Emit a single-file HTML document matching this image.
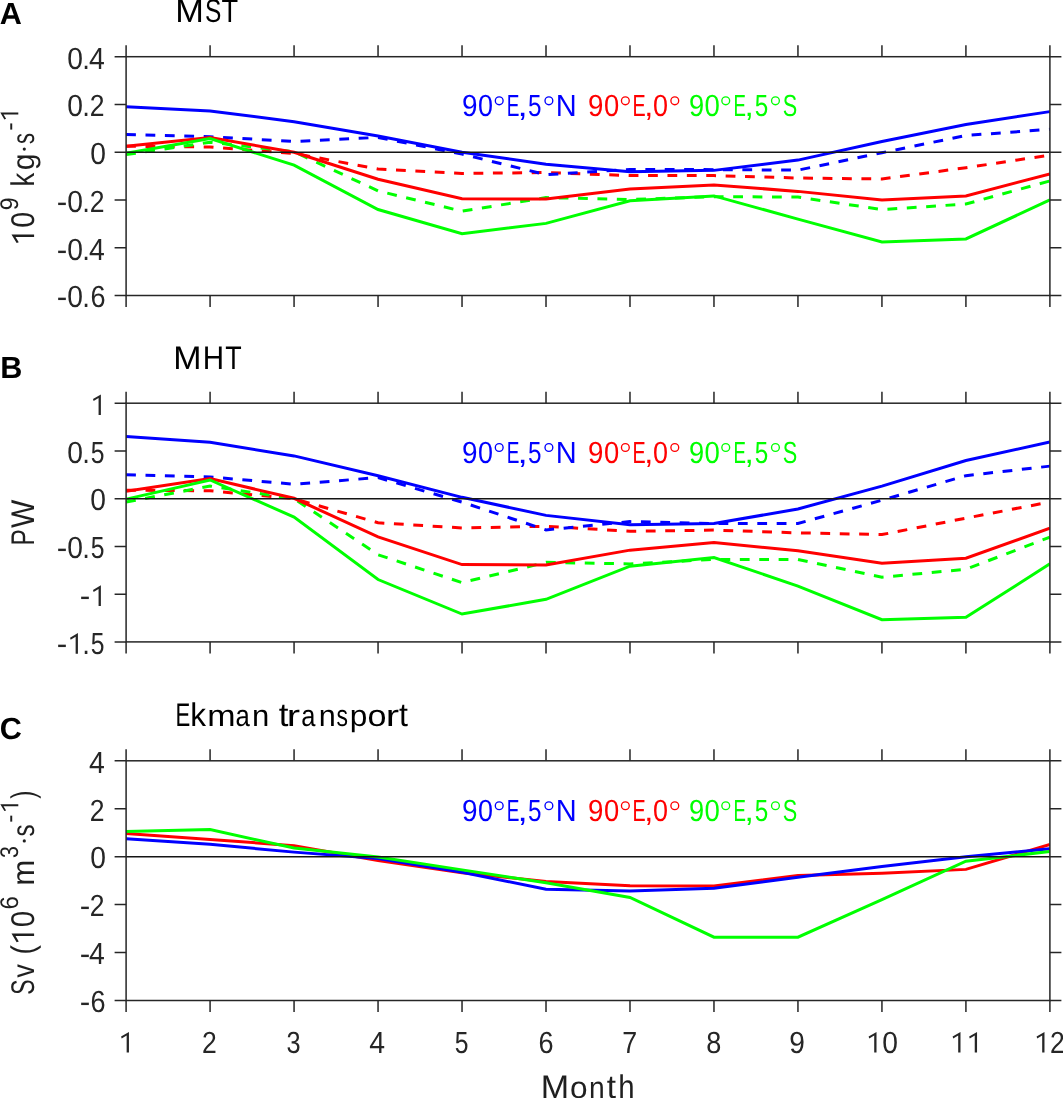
<!DOCTYPE html>
<html><head><meta charset="utf-8"><style>
html,body{margin:0;padding:0;background:#fff;}
svg{display:block;will-change:transform;}
text{font-family:"Liberation Sans",sans-serif;text-rendering:geometricPrecision;}
.tl{font-size:29.5px;fill:#262626;}
.ti{font-size:31px;fill:#000;}
.pl{font-size:30.6px;font-weight:bold;fill:#000;stroke:none;}
.yl{font-size:31px;fill:#262626;}
.lg{font-size:29px;}
.sup{font-size:25px;}
</style></head><body>
<svg width="1063" height="1098" viewBox="0 0 1063 1098">
<rect width="1063" height="1098" fill="#fff"/>
<clipPath id="clipA"><rect x="126.1" y="56.7" width="923.8" height="238.8"/></clipPath>
<g clip-path="url(#clipA)" fill="none" stroke-width="3.0" stroke-linejoin="miter" stroke-miterlimit="10">
<polyline points="126.1,146.25 210.08,146.97 294.06,153.41 378.05,168.94 462.03,173.47 546.01,172.52 629.99,175.62 713.97,175.62 797.95,178.01 881.94,178.97 965.92,167.74 1049.9,155.09" stroke="#ff0000" stroke-dasharray="9.8 9.6"/>
<polyline points="126.1,154.61 210.08,142.19 294.06,151.74 378.05,190.91 462.03,211.2 546.01,197.59 629.99,199.5 713.97,196.64 797.95,197.11 881.94,209.53 965.92,204.04 1049.9,180.88" stroke="#00ff00" stroke-dasharray="9.8 9.6"/>
<polyline points="126.1,134.55 210.08,136.7 294.06,141.47 378.05,137.41 462.03,154.13 546.01,174.67 629.99,169.41 713.97,169.65 797.95,170.13 881.94,152.7 965.92,135.5 1049.9,129.3" stroke="#0000ff" stroke-dasharray="9.8 9.6"/>
<polyline points="126.1,106.85 210.08,111.03 294.06,121.65 378.05,135.98 462.03,152.22 546.01,164.16 629.99,171.8 713.97,170.37 797.95,160.1 881.94,141.47 965.92,124.52 1049.9,111.62" stroke="#0000ff"/>
<polyline points="126.1,146.25 210.08,137.53 294.06,152.22 378.05,179.2 462.03,198.79 546.01,199.02 629.99,189 713.97,184.94 797.95,191.38 881.94,199.98 965.92,195.92 1049.9,173.95" stroke="#ff0000"/>
<polyline points="126.1,153.18 210.08,138.61 294.06,165.12 378.05,209.53 462.03,233.65 546.01,223.38 629.99,200.7 713.97,195.92 797.95,219.08 881.94,242.01 965.92,238.9 1049.9,199.98" stroke="#00ff00"/>
</g>
<line x1="126.1" y1="152.22" x2="1049.9" y2="152.22" stroke="#141414" stroke-width="1.6"/>
<rect x="126.1" y="56.7" width="923.8" height="238.8" fill="none" stroke="#262626" stroke-width="1.5"/>
<path d="M114.6 56.7H126.1M1049.9 56.7H1061.4M114.6 104.46H126.1M1049.9 104.46H1061.4M114.6 152.22H126.1M1049.9 152.22H1061.4M114.6 199.98H126.1M1049.9 199.98H1061.4M114.6 247.74H126.1M1049.9 247.74H1061.4M114.6 295.5H126.1M1049.9 295.5H1061.4M126.1 45.2V56.7M126.1 295.5V307M210.08 45.2V56.7M210.08 295.5V307M294.06 45.2V56.7M294.06 295.5V307M378.05 45.2V56.7M378.05 295.5V307M462.03 45.2V56.7M462.03 295.5V307M546.01 45.2V56.7M546.01 295.5V307M629.99 45.2V56.7M629.99 295.5V307M713.97 45.2V56.7M713.97 295.5V307M797.95 45.2V56.7M797.95 295.5V307M881.94 45.2V56.7M881.94 295.5V307M965.92 45.2V56.7M965.92 295.5V307M1049.9 45.2V56.7M1049.9 295.5V307" stroke="#262626" stroke-width="1.5" fill="none"/>
<text transform="translate(67.22,68.50) scale(0.9229,1.0000)" style="font-size:30.6px;fill:#262626">0</text>
<text transform="translate(82.24,68.50) scale(0.8970,1.0000)" style="font-size:30.6px;fill:#262626">.</text>
<text transform="translate(89.12,68.50) scale(0.9274,1.0000)" style="font-size:30.6px;fill:#262626">4</text>
<text transform="translate(67.22,116.26) scale(0.9229,1.0000)" style="font-size:30.6px;fill:#262626">0</text>
<text transform="translate(82.24,116.26) scale(0.8970,1.0000)" style="font-size:30.6px;fill:#262626">.</text>
<text transform="translate(89.84,116.26) scale(0.8680,1.0000)" style="font-size:30.6px;fill:#262626">2</text>
<text transform="translate(90.17,164.02) scale(0.9229,1.0000)" style="font-size:30.6px;fill:#262626">0</text>
<text transform="translate(56.75,211.78) scale(1.0307,1.0000)" style="font-size:30.6px;fill:#262626">-</text>
<text transform="translate(67.22,211.78) scale(0.9229,1.0000)" style="font-size:30.6px;fill:#262626">0</text>
<text transform="translate(82.24,211.78) scale(0.8970,1.0000)" style="font-size:30.6px;fill:#262626">.</text>
<text transform="translate(89.84,211.78) scale(0.8680,1.0000)" style="font-size:30.6px;fill:#262626">2</text>
<text transform="translate(56.75,259.54) scale(1.0307,1.0000)" style="font-size:30.6px;fill:#262626">-</text>
<text transform="translate(67.22,259.54) scale(0.9229,1.0000)" style="font-size:30.6px;fill:#262626">0</text>
<text transform="translate(82.24,259.54) scale(0.8970,1.0000)" style="font-size:30.6px;fill:#262626">.</text>
<text transform="translate(89.12,259.54) scale(0.9274,1.0000)" style="font-size:30.6px;fill:#262626">4</text>
<text transform="translate(56.75,307.30) scale(1.0307,1.0000)" style="font-size:30.6px;fill:#262626">-</text>
<text transform="translate(67.22,307.30) scale(0.9229,1.0000)" style="font-size:30.6px;fill:#262626">0</text>
<text transform="translate(82.24,307.30) scale(0.8970,1.0000)" style="font-size:30.6px;fill:#262626">.</text>
<text transform="translate(90.40,307.30) scale(0.8853,1.0000)" style="font-size:30.6px;fill:#262626">6</text>
<clipPath id="clipB"><rect x="126.1" y="403.2" width="923.8" height="238.7"/></clipPath>
<g clip-path="url(#clipB)" fill="none" stroke-width="3.0" stroke-linejoin="miter" stroke-miterlimit="10">
<polyline points="126.1,490.18 210.08,490.76 294.06,498.68 378.05,522.74 462.03,527.99 546.01,526.27 629.99,531.33 713.97,530.09 797.95,532.86 881.94,534.58 965.92,518.16 1049.9,502.02" stroke="#ff0000" stroke-dasharray="9.8 9.6"/>
<polyline points="126.1,502.02 210.08,486.08 294.06,498.68 378.05,554.73 462.03,582.61 546.01,562.37 629.99,563.89 713.97,559.41 797.95,559.41 881.94,577.26 965.92,569.24 1049.9,537.16" stroke="#00ff00" stroke-dasharray="9.8 9.6"/>
<polyline points="126.1,474.81 210.08,477.01 294.06,484.17 378.05,477.58 462.03,502.12 546.01,529.9 629.99,521.6 713.97,523.5 797.95,523.5 881.94,500.21 965.92,475.67 1049.9,466.12" stroke="#0000ff" stroke-dasharray="9.8 9.6"/>
<polyline points="126.1,436.62 210.08,442.35 294.06,455.9 378.05,475.67 462.03,497.34 546.01,515.39 629.99,524.75 713.97,523.5 797.95,508.99 881.94,486.08 965.92,460.49 1049.9,441.96" stroke="#0000ff"/>
<polyline points="126.1,491.23 210.08,478.63 294.06,498.3 378.05,536.87 462.03,564.56 546.01,565.04 629.99,550.14 713.97,542.51 797.95,550.72 881.94,563.32 965.92,558.26 1049.9,528.18" stroke="#ff0000"/>
<polyline points="126.1,499.16 210.08,479.97 294.06,517.11 378.05,579.55 462.03,614.02 546.01,599.32 629.99,566.18 713.97,557.59 797.95,586.04 881.94,619.75 965.92,617.36 1049.9,563.89" stroke="#00ff00"/>
</g>
<line x1="126.1" y1="498.68" x2="1049.9" y2="498.68" stroke="#141414" stroke-width="1.6"/>
<rect x="126.1" y="403.2" width="923.8" height="238.7" fill="none" stroke="#262626" stroke-width="1.5"/>
<path d="M114.6 403.2H126.1M1049.9 403.2H1061.4M114.6 450.94H126.1M1049.9 450.94H1061.4M114.6 498.68H126.1M1049.9 498.68H1061.4M114.6 546.42H126.1M1049.9 546.42H1061.4M114.6 594.16H126.1M1049.9 594.16H1061.4M114.6 641.9H126.1M1049.9 641.9H1061.4M126.1 391.7V403.2M126.1 641.9V653.4M210.08 391.7V403.2M210.08 641.9V653.4M294.06 391.7V403.2M294.06 641.9V653.4M378.05 391.7V403.2M378.05 641.9V653.4M462.03 391.7V403.2M462.03 641.9V653.4M546.01 391.7V403.2M546.01 641.9V653.4M629.99 391.7V403.2M629.99 641.9V653.4M713.97 391.7V403.2M713.97 641.9V653.4M797.95 391.7V403.2M797.95 641.9V653.4M881.94 391.7V403.2M881.94 641.9V653.4M965.92 391.7V403.2M965.92 641.9V653.4M1049.9 391.7V403.2M1049.9 641.9V653.4" stroke="#262626" stroke-width="1.5" fill="none"/>
<path transform="translate(99.73,415.00)" d="M1.15 -20.60 L1.15 0.00 L-1.15 0.00 L-1.15 -16.93 L-6.12 -13.97 L-6.73 -15.91Z" fill="#262626"/>
<text transform="translate(67.22,462.74) scale(0.9229,1.0000)" style="font-size:30.6px;fill:#262626">0</text>
<text transform="translate(82.24,462.74) scale(0.8970,1.0000)" style="font-size:30.6px;fill:#262626">.</text>
<text transform="translate(90.69,462.74) scale(0.8064,1.0000)" style="font-size:30.6px;fill:#262626">5</text>
<text transform="translate(90.17,510.48) scale(0.9229,1.0000)" style="font-size:30.6px;fill:#262626">0</text>
<text transform="translate(56.75,558.22) scale(1.0307,1.0000)" style="font-size:30.6px;fill:#262626">-</text>
<text transform="translate(67.22,558.22) scale(0.9229,1.0000)" style="font-size:30.6px;fill:#262626">0</text>
<text transform="translate(82.24,558.22) scale(0.8970,1.0000)" style="font-size:30.6px;fill:#262626">.</text>
<text transform="translate(90.69,558.22) scale(0.8064,1.0000)" style="font-size:30.6px;fill:#262626">5</text>
<text transform="translate(79.70,605.96) scale(1.0307,1.0000)" style="font-size:30.6px;fill:#262626">-</text>
<path transform="translate(99.73,605.96)" d="M1.15 -20.60 L1.15 0.00 L-1.15 0.00 L-1.15 -16.93 L-6.12 -13.97 L-6.73 -15.91Z" fill="#262626"/>
<text transform="translate(56.75,653.70) scale(1.0307,1.0000)" style="font-size:30.6px;fill:#262626">-</text>
<path transform="translate(76.78,653.70)" d="M1.15 -20.60 L1.15 0.00 L-1.15 0.00 L-1.15 -16.93 L-6.12 -13.97 L-6.73 -15.91Z" fill="#262626"/>
<text transform="translate(82.24,653.70) scale(0.8970,1.0000)" style="font-size:30.6px;fill:#262626">.</text>
<text transform="translate(90.69,653.70) scale(0.8064,1.0000)" style="font-size:30.6px;fill:#262626">5</text>
<clipPath id="clipC"><rect x="126.1" y="760.8" width="923.8" height="239.7"/></clipPath>
<g clip-path="url(#clipC)" fill="none" stroke-width="3.0" stroke-linejoin="miter" stroke-miterlimit="10">
<polyline points="126.1,833.43 210.08,839.42 294.06,845.65 378.05,860.52 462.03,872.74 546.01,881.61 629.99,885.68 713.97,885.92 797.95,875.62 881.94,873.22 965.92,869.38 1049.9,844.46" stroke="#ff0000"/>
<polyline points="126.1,838.7 210.08,844.34 294.06,852.13 378.05,858.6 462.03,872.26 546.01,889.28 629.99,890.96 713.97,888.32 797.95,877.29 881.94,866.51 965.92,856.68 1049.9,848.77" stroke="#0000ff"/>
<polyline points="126.1,831.51 210.08,829.59 294.06,848.05 378.05,856.92 462.03,869.86 546.01,882.81 629.99,897.43 713.97,937.22 797.95,937.22 881.94,899.59 965.92,861.23 1049.9,851.41" stroke="#00ff00"/>
</g>
<line x1="126.1" y1="856.68" x2="1049.9" y2="856.68" stroke="#141414" stroke-width="1.6"/>
<rect x="126.1" y="760.8" width="923.8" height="239.7" fill="none" stroke="#262626" stroke-width="1.5"/>
<path d="M114.6 760.8H126.1M1049.9 760.8H1061.4M114.6 808.74H126.1M1049.9 808.74H1061.4M114.6 856.68H126.1M1049.9 856.68H1061.4M114.6 904.62H126.1M1049.9 904.62H1061.4M114.6 952.56H126.1M1049.9 952.56H1061.4M114.6 1000.5H126.1M1049.9 1000.5H1061.4M126.1 749.3V760.8M126.1 1000.5V1012M210.08 749.3V760.8M210.08 1000.5V1012M294.06 749.3V760.8M294.06 1000.5V1012M378.05 749.3V760.8M378.05 1000.5V1012M462.03 749.3V760.8M462.03 1000.5V1012M546.01 749.3V760.8M546.01 1000.5V1012M629.99 749.3V760.8M629.99 1000.5V1012M713.97 749.3V760.8M713.97 1000.5V1012M797.95 749.3V760.8M797.95 1000.5V1012M881.94 749.3V760.8M881.94 1000.5V1012M965.92 749.3V760.8M965.92 1000.5V1012M1049.9 749.3V760.8M1049.9 1000.5V1012" stroke="#262626" stroke-width="1.5" fill="none"/>
<text transform="translate(89.12,772.60) scale(0.9274,1.0000)" style="font-size:30.6px;fill:#262626">4</text>
<text transform="translate(89.84,820.54) scale(0.8680,1.0000)" style="font-size:30.6px;fill:#262626">2</text>
<text transform="translate(90.17,868.48) scale(0.9229,1.0000)" style="font-size:30.6px;fill:#262626">0</text>
<text transform="translate(79.70,916.42) scale(1.0307,1.0000)" style="font-size:30.6px;fill:#262626">-</text>
<text transform="translate(89.84,916.42) scale(0.8680,1.0000)" style="font-size:30.6px;fill:#262626">2</text>
<text transform="translate(79.70,964.36) scale(1.0307,1.0000)" style="font-size:30.6px;fill:#262626">-</text>
<text transform="translate(89.12,964.36) scale(0.9274,1.0000)" style="font-size:30.6px;fill:#262626">4</text>
<text transform="translate(79.70,1012.30) scale(1.0307,1.0000)" style="font-size:30.6px;fill:#262626">-</text>
<text transform="translate(90.40,1012.30) scale(0.8853,1.0000)" style="font-size:30.6px;fill:#262626">6</text>
<path transform="translate(127.80,1052.50)" d="M1.15 -20.60 L1.15 0.00 L-1.15 0.00 L-1.15 -16.93 L-6.12 -13.97 L-6.73 -15.91Z" fill="#262626"/>
<text transform="translate(201.90,1052.50) scale(0.8680,1.0000)" style="font-size:30.6px;fill:#262626">2</text>
<text transform="translate(286.60,1052.50) scale(0.8271,1.0000)" style="font-size:30.6px;fill:#262626">3</text>
<text transform="translate(369.14,1052.50) scale(0.9274,1.0000)" style="font-size:30.6px;fill:#262626">4</text>
<text transform="translate(454.69,1052.50) scale(0.8064,1.0000)" style="font-size:30.6px;fill:#262626">5</text>
<text transform="translate(538.38,1052.50) scale(0.8853,1.0000)" style="font-size:30.6px;fill:#262626">6</text>
<text transform="translate(622.21,1052.50) scale(0.8770,1.0000)" style="font-size:30.6px;fill:#262626">7</text>
<text transform="translate(706.25,1052.50) scale(0.8845,1.0000)" style="font-size:30.6px;fill:#262626">8</text>
<text transform="translate(789.34,1052.50) scale(0.9197,1.0000)" style="font-size:30.6px;fill:#262626">9</text>
<path transform="translate(875.36,1052.50)" d="M1.15 -20.60 L1.15 0.00 L-1.15 0.00 L-1.15 -16.93 L-6.12 -13.97 L-6.73 -15.91Z" fill="#262626"/>
<text transform="translate(882.36,1052.50) scale(0.9229,1.0000)" style="font-size:30.6px;fill:#262626">0</text>
<path transform="translate(959.34,1052.50)" d="M1.15 -20.60 L1.15 0.00 L-1.15 0.00 L-1.15 -16.93 L-6.12 -13.97 L-6.73 -15.91Z" fill="#262626"/>
<path transform="translate(975.89,1052.50)" d="M1.15 -20.60 L1.15 0.00 L-1.15 0.00 L-1.15 -16.93 L-6.12 -13.97 L-6.73 -15.91Z" fill="#262626"/>
<path transform="translate(1043.33,1052.50)" d="M1.15 -20.60 L1.15 0.00 L-1.15 0.00 L-1.15 -16.93 L-6.12 -13.97 L-6.73 -15.91Z" fill="#262626"/>
<text transform="translate(1049.99,1052.50) scale(0.8680,1.0000)" style="font-size:30.6px;fill:#262626">2</text>
<text x="-0.3" y="23.9" class="pl">A</text>
<text x="0.3" y="377.9" class="pl">B</text>
<text x="-0.3" y="738.6" class="pl">C</text>
<text transform="translate(175.28,22.05) scale(1.0482,1.0000)" style="font-size:32.8px;fill:#000;stroke:none">M</text>
<text transform="translate(204.99,22.05) scale(0.7467,1.0000)" style="font-size:32.8px;fill:#000;stroke:none">S</text>
<text transform="translate(221.59,22.05) scale(0.8304,1.0000)" style="font-size:32.8px;fill:#000;stroke:none">T</text>
<text transform="translate(173.32,368.80) scale(1.0346,1.0000)" style="font-size:32.8px;fill:#000;stroke:none">M</text>
<text transform="translate(202.78,368.80) scale(0.9006,1.0000)" style="font-size:32.8px;fill:#000;stroke:none">H</text>
<text transform="translate(225.30,368.80) scale(0.8196,1.0000)" style="font-size:32.8px;fill:#000;stroke:none">T</text>
<text transform="translate(175.48,725.80) scale(0.6750,1.0000)" style="font-size:32.8px;fill:#000;stroke:none">E</text>
<text transform="translate(190.37,725.80) scale(0.9622,1.0000)" style="font-size:32.8px;fill:#000;stroke:none">k</text>
<text transform="translate(207.24,725.80) scale(1.0356,0.9250)" style="font-size:32.8px;fill:#000;stroke:none">m</text>
<text transform="translate(235.41,725.80) scale(0.7835,0.9250)" style="font-size:32.8px;fill:#000;stroke:none">a</text>
<text transform="translate(251.94,725.80) scale(0.9474,0.9250)" style="font-size:32.8px;fill:#000;stroke:none">n</text>
<text transform="translate(278.67,725.80) scale(1.0625,1.0000)" style="font-size:32.8px;fill:#000;stroke:none">t</text>
<text transform="translate(286.84,725.80) scale(1.2195,0.9250)" style="font-size:32.8px;fill:#000;stroke:none">r</text>
<text transform="translate(301.22,725.80) scale(0.7775,0.9250)" style="font-size:32.8px;fill:#000;stroke:none">a</text>
<text transform="translate(318.67,725.80) scale(0.9330,0.9250)" style="font-size:32.8px;fill:#000;stroke:none">n</text>
<text transform="translate(336.56,725.80) scale(0.6992,0.9250)" style="font-size:32.8px;fill:#000;stroke:none">s</text>
<text transform="translate(349.86,725.80) scale(0.9627,0.9250)" style="font-size:32.8px;fill:#000;stroke:none">p</text>
<text transform="translate(367.57,725.80) scale(1.0396,0.9250)" style="font-size:32.8px;fill:#000;stroke:none">o</text>
<text transform="translate(385.84,725.80) scale(1.2195,0.9250)" style="font-size:32.8px;fill:#000;stroke:none">r</text>
<text transform="translate(399.01,725.80) scale(0.9790,1.0000)" style="font-size:32.8px;fill:#000;stroke:none">t</text>
<text transform="translate(461.99,116.20) scale(0.9127,1.0000)" style="font-size:30.6px;fill:#0000ff">9</text>
<text transform="translate(478.05,116.20) scale(0.8819,1.0000)" style="font-size:30.6px;fill:#0000ff">0</text>
<circle cx="499.20" cy="100.80" r="3.9" fill="none" stroke="#0000ff" stroke-width="1.35"/>
<text transform="translate(506.64,116.20) scale(0.6210,1.0000)" style="font-size:30.6px;fill:#0000ff">E</text>
<text transform="translate(517.50,116.20) scale(1.1987,1.0000)" style="font-size:30.6px;fill:#0000ff">,</text>
<text transform="translate(528.03,116.20) scale(0.7927,1.0000)" style="font-size:30.6px;fill:#0000ff">5</text>
<circle cx="548.90" cy="100.80" r="3.9" fill="none" stroke="#0000ff" stroke-width="1.35"/>
<text transform="translate(555.72,116.20) scale(0.9478,1.0000)" style="font-size:30.6px;fill:#0000ff">N</text>
<text transform="translate(587.90,116.20) scale(0.9056,1.0000)" style="font-size:30.6px;fill:#ff0000">9</text>
<text transform="translate(603.93,116.20) scale(0.8956,1.0000)" style="font-size:30.6px;fill:#ff0000">0</text>
<circle cx="625.35" cy="100.80" r="3.9" fill="none" stroke="#ff0000" stroke-width="1.35"/>
<text transform="translate(632.38,116.20) scale(0.6452,1.0000)" style="font-size:30.6px;fill:#ff0000">E</text>
<text transform="translate(644.17,116.20) scale(1.0655,1.0000)" style="font-size:30.6px;fill:#ff0000">,</text>
<text transform="translate(653.05,116.20) scale(0.8819,1.0000)" style="font-size:30.6px;fill:#ff0000">0</text>
<circle cx="674.80" cy="100.80" r="3.9" fill="none" stroke="#ff0000" stroke-width="1.35"/>
<text transform="translate(689.02,116.20) scale(0.8914,1.0000)" style="font-size:30.6px;fill:#00ff00">9</text>
<text transform="translate(704.42,116.20) scale(0.9024,1.0000)" style="font-size:30.6px;fill:#00ff00">0</text>
<circle cx="725.75" cy="100.80" r="3.9" fill="none" stroke="#00ff00" stroke-width="1.35"/>
<text transform="translate(733.57,116.20) scale(0.6090,1.0000)" style="font-size:30.6px;fill:#00ff00">E</text>
<text transform="translate(744.48,116.20) scale(1.0988,1.0000)" style="font-size:30.6px;fill:#00ff00">,</text>
<text transform="translate(754.73,116.20) scale(0.7927,1.0000)" style="font-size:30.6px;fill:#00ff00">5</text>
<circle cx="775.45" cy="100.80" r="3.9" fill="none" stroke="#00ff00" stroke-width="1.35"/>
<text transform="translate(782.71,116.20) scale(0.7096,1.0000)" style="font-size:30.6px;fill:#00ff00">S</text>
<text transform="translate(461.99,462.90) scale(0.9127,1.0000)" style="font-size:30.6px;fill:#0000ff">9</text>
<text transform="translate(478.05,462.90) scale(0.8819,1.0000)" style="font-size:30.6px;fill:#0000ff">0</text>
<circle cx="499.20" cy="447.50" r="3.9" fill="none" stroke="#0000ff" stroke-width="1.35"/>
<text transform="translate(506.64,462.90) scale(0.6210,1.0000)" style="font-size:30.6px;fill:#0000ff">E</text>
<text transform="translate(517.50,462.90) scale(1.1987,1.0000)" style="font-size:30.6px;fill:#0000ff">,</text>
<text transform="translate(528.03,462.90) scale(0.7927,1.0000)" style="font-size:30.6px;fill:#0000ff">5</text>
<circle cx="548.90" cy="447.50" r="3.9" fill="none" stroke="#0000ff" stroke-width="1.35"/>
<text transform="translate(555.72,462.90) scale(0.9478,1.0000)" style="font-size:30.6px;fill:#0000ff">N</text>
<text transform="translate(587.90,462.90) scale(0.9056,1.0000)" style="font-size:30.6px;fill:#ff0000">9</text>
<text transform="translate(603.93,462.90) scale(0.8956,1.0000)" style="font-size:30.6px;fill:#ff0000">0</text>
<circle cx="625.35" cy="447.50" r="3.9" fill="none" stroke="#ff0000" stroke-width="1.35"/>
<text transform="translate(632.38,462.90) scale(0.6452,1.0000)" style="font-size:30.6px;fill:#ff0000">E</text>
<text transform="translate(644.17,462.90) scale(1.0655,1.0000)" style="font-size:30.6px;fill:#ff0000">,</text>
<text transform="translate(653.05,462.90) scale(0.8819,1.0000)" style="font-size:30.6px;fill:#ff0000">0</text>
<circle cx="674.80" cy="447.50" r="3.9" fill="none" stroke="#ff0000" stroke-width="1.35"/>
<text transform="translate(689.02,462.90) scale(0.8914,1.0000)" style="font-size:30.6px;fill:#00ff00">9</text>
<text transform="translate(704.42,462.90) scale(0.9024,1.0000)" style="font-size:30.6px;fill:#00ff00">0</text>
<circle cx="725.75" cy="447.50" r="3.9" fill="none" stroke="#00ff00" stroke-width="1.35"/>
<text transform="translate(733.57,462.90) scale(0.6090,1.0000)" style="font-size:30.6px;fill:#00ff00">E</text>
<text transform="translate(744.48,462.90) scale(1.0988,1.0000)" style="font-size:30.6px;fill:#00ff00">,</text>
<text transform="translate(754.73,462.90) scale(0.7927,1.0000)" style="font-size:30.6px;fill:#00ff00">5</text>
<circle cx="775.45" cy="447.50" r="3.9" fill="none" stroke="#00ff00" stroke-width="1.35"/>
<text transform="translate(782.71,462.90) scale(0.7096,1.0000)" style="font-size:30.6px;fill:#00ff00">S</text>
<text transform="translate(461.99,821.10) scale(0.9127,1.0000)" style="font-size:30.6px;fill:#0000ff">9</text>
<text transform="translate(478.05,821.10) scale(0.8819,1.0000)" style="font-size:30.6px;fill:#0000ff">0</text>
<circle cx="499.20" cy="805.70" r="3.9" fill="none" stroke="#0000ff" stroke-width="1.35"/>
<text transform="translate(506.64,821.10) scale(0.6210,1.0000)" style="font-size:30.6px;fill:#0000ff">E</text>
<text transform="translate(517.50,821.10) scale(1.1987,1.0000)" style="font-size:30.6px;fill:#0000ff">,</text>
<text transform="translate(528.03,821.10) scale(0.7927,1.0000)" style="font-size:30.6px;fill:#0000ff">5</text>
<circle cx="548.90" cy="805.70" r="3.9" fill="none" stroke="#0000ff" stroke-width="1.35"/>
<text transform="translate(555.72,821.10) scale(0.9478,1.0000)" style="font-size:30.6px;fill:#0000ff">N</text>
<text transform="translate(587.90,821.10) scale(0.9056,1.0000)" style="font-size:30.6px;fill:#ff0000">9</text>
<text transform="translate(603.93,821.10) scale(0.8956,1.0000)" style="font-size:30.6px;fill:#ff0000">0</text>
<circle cx="625.35" cy="805.70" r="3.9" fill="none" stroke="#ff0000" stroke-width="1.35"/>
<text transform="translate(632.38,821.10) scale(0.6452,1.0000)" style="font-size:30.6px;fill:#ff0000">E</text>
<text transform="translate(644.17,821.10) scale(1.0655,1.0000)" style="font-size:30.6px;fill:#ff0000">,</text>
<text transform="translate(653.05,821.10) scale(0.8819,1.0000)" style="font-size:30.6px;fill:#ff0000">0</text>
<circle cx="674.80" cy="805.70" r="3.9" fill="none" stroke="#ff0000" stroke-width="1.35"/>
<text transform="translate(689.02,821.10) scale(0.8914,1.0000)" style="font-size:30.6px;fill:#00ff00">9</text>
<text transform="translate(704.42,821.10) scale(0.9024,1.0000)" style="font-size:30.6px;fill:#00ff00">0</text>
<circle cx="725.75" cy="805.70" r="3.9" fill="none" stroke="#00ff00" stroke-width="1.35"/>
<text transform="translate(733.57,821.10) scale(0.6090,1.0000)" style="font-size:30.6px;fill:#00ff00">E</text>
<text transform="translate(744.48,821.10) scale(1.0988,1.0000)" style="font-size:30.6px;fill:#00ff00">,</text>
<text transform="translate(754.73,821.10) scale(0.7927,1.0000)" style="font-size:30.6px;fill:#00ff00">5</text>
<circle cx="775.45" cy="805.70" r="3.9" fill="none" stroke="#00ff00" stroke-width="1.35"/>
<text transform="translate(782.71,821.10) scale(0.7096,1.0000)" style="font-size:30.6px;fill:#00ff00">S</text>
<path transform="translate(34.10,235.65) rotate(-90)" d="M1.25 -22.60 L1.25 0.00 L-1.25 0.00 L-1.25 -18.57 L-6.71 -15.33 L-7.38 -17.45Z" fill="#1f1f1f"/>
<text transform="translate(34.10,227.71) rotate(-90) scale(0.8674,1.0000)" style="font-size:32.8px;fill:#1f1f1f;stroke:none">0</text>
<text transform="translate(18.30,210.19) rotate(-90) scale(0.9084,1.0000)" style="font-size:25.5px;fill:#1f1f1f;stroke:none">9</text>
<text transform="translate(34.10,186.46) rotate(-90) scale(0.8428,1.0000)" style="font-size:32.8px;fill:#1f1f1f;stroke:none">k</text>
<text transform="translate(34.10,170.37) rotate(-90) scale(0.9220,0.9550)" style="font-size:32.8px;fill:#1f1f1f;stroke:none">g</text>
<circle cx="24.3" cy="149.05" r="1.6" fill="#1f1f1f"/>
<text transform="translate(34.10,144.11) rotate(-90) scale(0.6712,0.9550)" style="font-size:32.8px;fill:#1f1f1f;stroke:none">s</text>
<text transform="translate(18.30,130.73) rotate(-90) scale(0.9959,1.0000)" style="font-size:25.5px;fill:#1f1f1f;stroke:none">-</text>
<path transform="translate(18.30,113.50) rotate(-90)" d="M1.05 -18.00 L1.05 0.00 L-1.05 0.00 L-1.05 -14.79 L-5.35 -12.21 L-5.88 -13.90Z" fill="#1f1f1f"/>
<text transform="translate(34.10,545.62) rotate(-90) scale(0.7504,1.0000)" style="font-size:32.8px;fill:#1f1f1f;stroke:none">P</text>
<text transform="translate(34.10,528.03) rotate(-90) scale(0.9120,1.0000)" style="font-size:32.8px;fill:#1f1f1f;stroke:none">W</text>
<text transform="translate(34.10,994.64) rotate(-90) scale(0.6991,1.0000)" style="font-size:32.8px;fill:#1f1f1f;stroke:none">S</text>
<text transform="translate(34.10,977.49) rotate(-90) scale(0.8160,0.9550)" style="font-size:32.8px;fill:#1f1f1f;stroke:none">v</text>
<text transform="translate(34.10,954.53) rotate(-90) scale(0.8509,1.0000)" style="font-size:32.8px;fill:#1f1f1f;stroke:none">(</text>
<path transform="translate(34.10,934.85) rotate(-90)" d="M1.25 -22.60 L1.25 0.00 L-1.25 0.00 L-1.25 -18.57 L-6.71 -15.33 L-7.38 -17.45Z" fill="#1f1f1f"/>
<text transform="translate(34.10,927.26) rotate(-90) scale(0.9057,1.0000)" style="font-size:32.8px;fill:#1f1f1f;stroke:none">0</text>
<text transform="translate(18.30,909.52) rotate(-90) scale(0.9434,1.0000)" style="font-size:25.5px;fill:#1f1f1f;stroke:none">6</text>
<text transform="translate(34.10,885.68) rotate(-90) scale(0.9529,0.9550)" style="font-size:32.8px;fill:#1f1f1f;stroke:none">m</text>
<text transform="translate(18.30,858.01) rotate(-90) scale(0.8354,1.0000)" style="font-size:25.5px;fill:#1f1f1f;stroke:none">3</text>
<circle cx="24.3" cy="840.90" r="1.6" fill="#1f1f1f"/>
<text transform="translate(34.10,836.47) rotate(-90) scale(0.7342,0.9550)" style="font-size:32.8px;fill:#1f1f1f;stroke:none">s</text>
<text transform="translate(18.30,822.79) rotate(-90) scale(0.9638,1.0000)" style="font-size:25.5px;fill:#1f1f1f;stroke:none">-</text>
<path transform="translate(18.30,805.20) rotate(-90)" d="M1.05 -18.00 L1.05 0.00 L-1.05 0.00 L-1.05 -14.79 L-5.35 -12.21 L-5.88 -13.90Z" fill="#1f1f1f"/>
<text transform="translate(34.10,798.64) rotate(-90) scale(0.7474,1.0000)" style="font-size:32.8px;fill:#1f1f1f;stroke:none">)</text>
<text transform="translate(540.80,1097.70) scale(1.0391,1.0000)" style="font-size:32.8px;fill:#1f1f1f;stroke:none">M</text>
<text transform="translate(569.97,1097.70) scale(0.9621,0.9300)" style="font-size:32.8px;fill:#1f1f1f;stroke:none">o</text>
<text transform="translate(589.12,1097.70) scale(0.8612,0.9300)" style="font-size:32.8px;fill:#1f1f1f;stroke:none">n</text>
<text transform="translate(606.80,1097.70) scale(1.0148,1.0000)" style="font-size:32.8px;fill:#1f1f1f;stroke:none">t</text>
<text transform="translate(618.16,1097.70) scale(0.8961,1.0000)" style="font-size:32.8px;fill:#1f1f1f;stroke:none">h</text>
<!--TEXT-->
</svg>
</body></html>
